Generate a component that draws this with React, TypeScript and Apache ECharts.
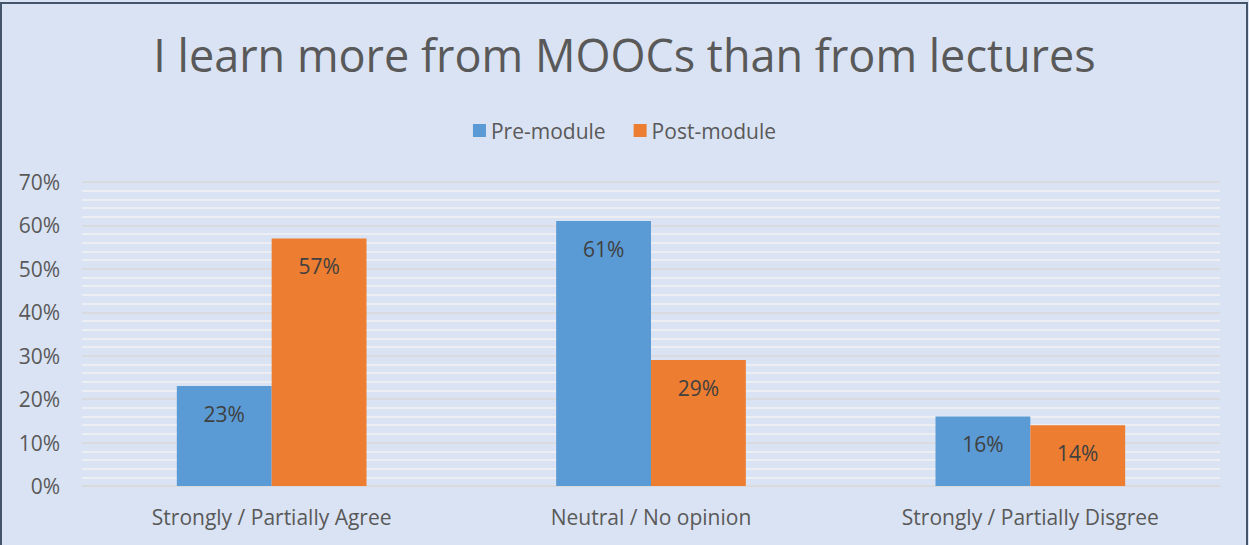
import React, { useEffect, useRef } from "react";
import * as echarts from "echarts";

const categories = ["Strongly / Partially Agree", "Neutral / No opinion", "Strongly / Partially Disgree"];
const preModule = [23, 61, 16];
const postModule = [57, 29, 14];
const seriesNames = ["Pre-module", "Post-module"];
const titleText = "I learn more from MOOCs than from lectures";

export default function App() {
  const ref = useRef<HTMLDivElement>(null);
  useEffect(() => {
    document.body.style.margin = "0";
    const chart = echarts.init(ref.current!, null, { renderer: "svg" });
    const font = "'Open Sans', sans-serif";
    const label = {
      show: true,
      position: "insideTop",
      distance: 17,
      formatter: (p: any) => p.value + "%",
      color: "#404040",
      fontSize: 21,
      fontFamily: font,
    };
    chart.setOption({
      animation: false,
      backgroundColor: "#dae3f3",
      title: {
        text: titleText,
        left: "center",
        top: 27,
        textStyle: { color: "#595959", fontSize: 45, fontWeight: "normal", fontFamily: font },
      },
      legend: {
        top: 115,
        left: "center",
        itemWidth: 13,
        itemHeight: 13,
        itemGap: 28,
        icon: "rect",
        textStyle: { color: "#595959", fontSize: 21, fontFamily: font },
        data: seriesNames,
      },
      grid: { left: 82, right: 29, top: 182, bottom: 59 },
      xAxis: {
        type: "category",
        data: categories,
        axisLine: { show: true, lineStyle: { color: "#d9d9d9" } },
        axisTick: { show: false },
        axisLabel: { color: "#595959", fontSize: 21, fontFamily: font, margin: 20 },
      },
      yAxis: {
        type: "value",
        min: 0,
        max: 70,
        interval: 10,
        axisLabel: { formatter: "{value}%", color: "#595959", fontSize: 21, fontFamily: font, margin: 22 },
        axisLine: { show: false },
        axisTick: { show: false },
        splitLine: { show: true, lineStyle: { color: "#d9d9d9", width: 1.5 } },
        minorTick: { show: false, splitNumber: 5 },
        minorSplitLine: { show: true, lineStyle: { color: "#f2f2f2", width: 1.5 } },
      },
      series: [
        {
          name: seriesNames[0],
          type: "bar",
          data: preModule,
          barGap: "0%",
          barCategoryGap: "50%",
          itemStyle: { color: "#5b9bd5" },
          label,
        },
        {
          name: seriesNames[1],
          type: "bar",
          data: postModule,
          barGap: "0%",
          barCategoryGap: "50%",
          itemStyle: { color: "#ed7d31" },
          label,
        },
      ],
      graphic: [
        {
          type: "rect",
          shape: { x: 1, y: 3, width: 1246, height: 560 },
          style: { fill: "none", stroke: "#44546a", lineWidth: 2 },
          silent: true,
        },
      ],
    });
    return () => chart.dispose();
  }, []);
  return <div ref={ref} style={{ width: 1249, height: 545 }} />;
}
